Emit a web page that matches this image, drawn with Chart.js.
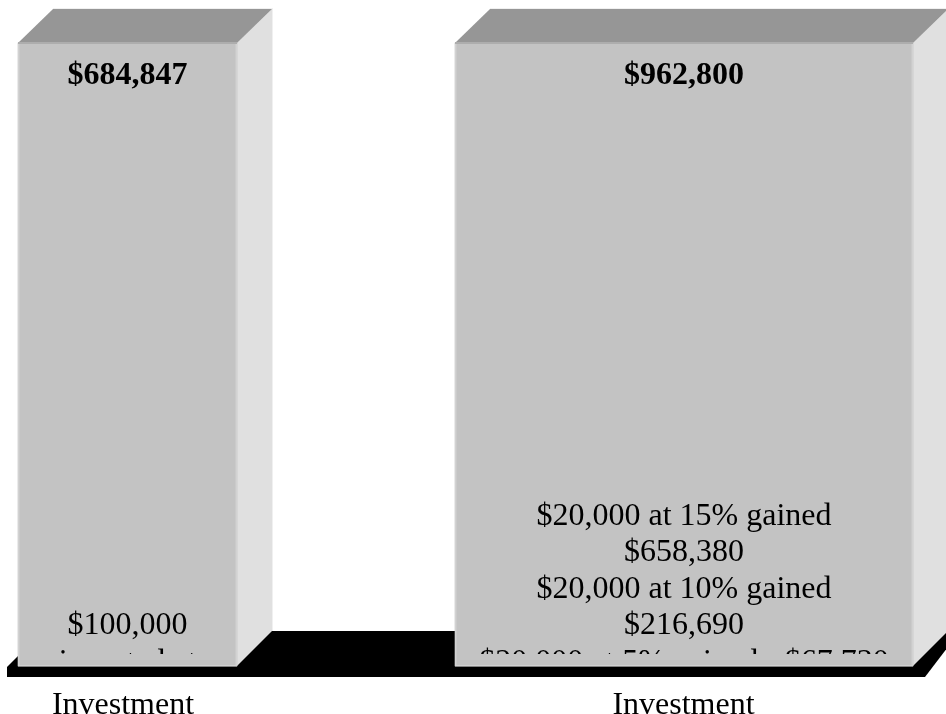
<!DOCTYPE html>
<html>
<head>
<meta charset="utf-8">
<style>
  html, body { margin: 0; padding: 0; background: #fff; overflow: hidden; }
  canvas { display: block; }
</style>
<script src="https://cdn.jsdelivr.net/npm/chart.js@4"></script>
</head>
<body>
<canvas id="chart" width="946" height="714"></canvas>
<script>
// Data
const categories = ['Investment ', 'Investment']; // trailing space nudges the first label left, as in the original
const barLevels = [100, 100]; // both columns are drawn the same height
const totals = ['$684,847', '$962,800'];
const notesLeft = ['$100,000', 'invested at'];
const notesRight = [
    '$20,000 at 15% gained',
    '$658,380',
    '$20,000 at 10% gained',
    '$216,690',
    '$20,000 at 5% gained - $67,730'
];
const notes = [notesLeft, notesRight];

const depth = 35;
const serif = '"Liberation Serif", "Times New Roman", serif';

function poly(ctx, color, pts) {
    ctx.fillStyle = color;
    ctx.beginPath();
    pts.forEach(function(p, i) {
        if (i === 0) ctx.moveTo(p[0], p[1]);
        else ctx.lineTo(p[0], p[1]);
    });
    ctx.closePath();
    ctx.fill();
}

function barBox(chart, i) {
    const bar = chart.getDatasetMeta(i).data[i];
    const p = bar.getProps(['x', 'y', 'base', 'width'], true);
    return { left: p.x - p.width / 2, right: p.x + p.width / 2, top: p.y, bottom: p.base, x: p.x };
}

// Floor and the top/side faces go behind the bars
const boxFaces = {
    id: 'boxFaces',
    beforeDatasetsDraw(chart) {
        const ctx = chart.ctx;
        const bottom = chart.chartArea.bottom;
        const a = barBox(chart, 0);
        const b = barBox(chart, 1);
        ctx.save();
        poly(ctx, '#000', [
            [7, bottom + 11], [7, bottom + 1], [a.left, bottom - 10], [a.left + depth, bottom - depth],
            [b.right + depth + 12, bottom - depth], [b.right + 12, bottom + 11]
        ]);
        [a, b].forEach(function(r) {
            // faint highlight round the back edges
            ctx.fillStyle = '#f0f0f0';
            ctx.fillRect(r.left + depth, r.top - 35, r.right - r.left + 1, 1);
            ctx.fillRect(r.right + depth, r.top - 35, 1, r.bottom - r.top);
            poly(ctx, '#e0e0e0', [[r.right, r.top], [r.right + depth, r.top - 34], [r.right + depth, r.bottom - depth], [r.right, r.bottom]]);
            poly(ctx, '#969696', [[r.left, r.top], [r.left + depth, r.top - 34], [r.right + depth, r.top - 34], [r.right, r.top]]);
        });
        ctx.restore();
    },
    afterDatasetsDraw(chart) {
        const ctx = chart.ctx;
        ctx.save();
        [0, 1].forEach(function(i) {
            const r = barBox(chart, i);
            // soft edges of the front face
            ctx.fillStyle = '#adadad';
            ctx.fillRect(r.left, r.top - 1, r.right - r.left, 2);
            ctx.fillStyle = '#d2d2d2';
            ctx.fillRect(r.left, r.top + 1, 1.5, r.bottom - r.top - 1);
            ctx.fillRect(r.right - 1.5, r.top + 1, 1.5, r.bottom - r.top - 1);
            ctx.fillRect(r.left, r.bottom - 1, r.right - r.left, 1.5);

            ctx.fillStyle = '#000';
            ctx.textAlign = 'center';
            ctx.textBaseline = 'alphabetic';
            ctx.font = 'bold 32px ' + serif;
            ctx.fillText(totals[i], r.x, 84);

            // the notes overflow the box and get cut off near the floor
            ctx.save();
            ctx.beginPath();
            ctx.rect(r.left, r.top, r.right - r.left, 654 - r.top);
            ctx.clip();
            ctx.font = '32px ' + serif;
            const first = 634 - (notes[i].length - 2) * 36.5;
            notes[i].forEach(function(line, n) {
                ctx.fillText(line, r.x, first + n * 36.5);
            });
            ctx.restore();
        });
        ctx.restore();
    }
};

new Chart(document.getElementById('chart').getContext('2d'), {
    type: 'bar',
    data: {
        labels: categories,
        datasets: [
            { data: [barLevels[0], null], barThickness: 219, backgroundColor: '#c3c3c3', clip: false },
            { data: [null, barLevels[1]], barThickness: 458, backgroundColor: '#c3c3c3', clip: false }
        ]
    },
    options: {
        responsive: false,
        animation: false,
        devicePixelRatio: 1,
        layout: { padding: { left: 127.5, right: 262, top: 43, bottom: 0 } },
        plugins: { legend: { display: false }, tooltip: { enabled: false } },
        scales: {
            x: {
                offset: false,
                grid: { display: false, drawTicks: false },
                border: { display: false },
                afterFit: function(scale) { scale.height = 48; },
                ticks: {
                    autoSkip: false,
                    maxRotation: 0,
                    padding: 20,
                    labelOffset: -0.5,
                    color: '#000',
                    font: { family: serif, size: 32 }
                }
            },
            y: { display: false, min: 0, max: 100 }
        },
        datasets: { bar: { grouped: false } }
    },
    plugins: [boxFaces]
});
</script>
</body>
</html>
